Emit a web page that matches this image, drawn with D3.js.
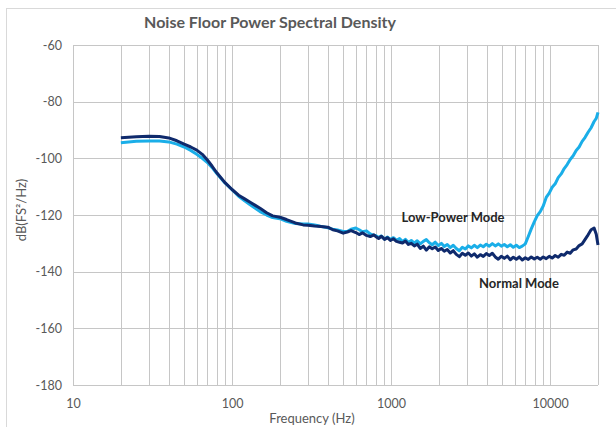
<!DOCTYPE html>
<html>
<head>
<meta charset="utf-8">
<script src="https://cdn.jsdelivr.net/npm/d3@7"></script>
<style>
  html, body { margin: 0; padding: 0; background: #ffffff; }
  svg { display: block; }
</style>
</head>
<body>
<svg id="chart" width="616" height="427"></svg>
<script>
// ---------------- DATA ----------------
const chartTitle = "Noise Floor Power Spectral Density";
const xTitle = "Frequency (Hz)";
const yTitle = "dB(FS²/Hz)";
const xTickValues = [10, 100, 1000, 10000];
const yTickValues = [-180, -160, -140, -120, -100, -80, -60];
const seriesNames = ["Low-Power Mode", "Normal Mode"];

const freqHz = [
  20, 25, 30, 35, 40, 45, 50, 55, 60, 65, 70, 75, 80, 90, 100, 110, 120, 130, 140, 150,
  165, 180, 200, 220, 250, 280, 300, 330, 360, 400, 430, 460, 500, 530, 560, 600, 630, 660, 700, 740, 780,
  800, 835, 870, 910, 950, 990, 1035, 1080, 1130, 1180, 1230, 1285, 1340, 1400, 1460, 1525, 1595, 1665, 1740, 1815,
  1895, 1980, 2070, 2160, 2255, 2355, 2460, 2570, 2685, 2805, 2930, 3060, 3195, 3335, 3485, 3640, 3800, 3970, 4145, 4330,
  4520, 4720, 4930, 5150, 5380, 5620, 5870, 6130, 6400, 6680, 6980, 7290, 7610, 7950, 8300, 8670, 9050, 9450, 9870, 10300,
  10760, 11240, 11740, 12260, 12800, 13370, 13960, 14580, 15220, 15900, 16600, 17330, 18100, 18900, 19500, 20000
];

const lowPowerDb = [
  -94.5, -94.0, -93.9, -93.9, -94.2, -95.0, -96.0, -97.2, -98.6, -100.0, -101.5, -103.3, -105.3, -108.6, -111.1, -113.4, -115.0, -116.4, -117.6, -118.8,
  -120.0, -120.9, -121.3, -122.2, -123.0, -123.2, -123.2, -123.5, -124.0, -124.5, -125.0, -125.3, -125.8, -125.8, -125.0, -124.6, -125.2, -125.9, -125.6, -126.7, -127.2,
  -127.2, -127.9, -127.4, -128.5, -127.8, -128.6, -128.0, -128.9, -128.3, -129.4, -128.6, -129.7, -129.0, -129.9, -129.1, -130.2, -129.3, -128.7, -129.8, -130.5,
  -129.6, -130.8, -130.0, -131.1, -130.4, -131.5, -130.7, -131.8, -132.6, -131.4, -132.0, -130.9, -131.6, -130.7, -131.5, -130.6, -131.2, -130.3, -131.0, -130.1,
  -130.9, -130.2, -131.0, -130.4, -131.2, -130.5, -131.4, -130.7, -131.5, -131.0, -130.2, -127.6, -124.9, -122.4, -120.2, -118.8, -116.8, -113.8, -112.3, -110.2,
  -109.0, -106.8, -105.5, -103.6, -102.2, -100.4, -99.1, -97.2, -96.0, -94.0, -92.6, -90.8, -89.2, -87.0, -85.9, -83.8
];

const normalDb = [
  -92.7, -92.4, -92.2, -92.3, -92.8, -93.8, -95.0, -96.0, -97.1, -98.6, -100.6, -102.8, -105.0, -108.5, -111.0, -113.0, -114.3, -115.5, -116.6, -117.6,
  -119.2, -120.3, -120.8, -121.6, -122.8, -123.5, -123.6, -123.9, -124.1, -124.3, -125.2, -125.6, -126.4, -126.0, -125.5, -126.2, -126.9, -126.3, -127.2, -127.6, -127.0,
  -127.6, -128.3, -127.5, -128.6, -128.0, -129.0, -128.4, -129.3, -129.6, -129.9, -129.2, -130.4, -130.0, -130.9, -130.3, -131.8, -131.0, -132.4, -131.2, -131.9,
  -131.3, -132.5, -131.8, -132.8, -132.2, -133.4, -132.6, -133.9, -134.7, -133.5, -134.2, -133.4, -134.5, -133.7, -134.9, -134.0, -134.6, -133.6, -134.3, -133.5,
  -134.8, -135.6, -134.6, -135.3, -134.5, -135.8, -134.9, -135.6, -134.8, -135.9, -135.1, -135.7, -134.8, -135.5, -134.9, -135.6, -134.8, -135.4, -134.6, -135.2,
  -134.3, -134.9, -133.9, -134.2, -133.1, -133.5, -132.3, -132.0, -130.8, -130.2, -128.6, -127.0, -125.2, -124.6, -126.8, -130.6
];

// ---------------- CHART ----------------
const svg = d3.select("#chart");
const plot = { left: 73, right: 598, top: 45, bottom: 385 };

const x = d3.scaleLog().domain([10, 20000]).range([plot.left, plot.right]);
const y = d3.scaleLinear().domain([-180, -60]).range([plot.bottom, plot.top]);

const gridColor = "#c6c6c6";
const textColor = "#595959";
const fontFamily = "Lato, 'Open Sans', 'DejaVu Sans', sans-serif";

// outer chart border
svg.append("rect")
  .attr("x", 6.5).attr("y", 8.5)
  .attr("width", 640).attr("height", 440)
  .attr("fill", "none").attr("stroke", "#d9d9d9").attr("stroke-width", 1);

// vertical grid lines (log minor)
const vGrid = [];
for (let d = 10; d <= 10000; d *= 10) {
  for (let m = 1; m <= 9; m++) {
    const v = d * m;
    if (v <= 20000) vGrid.push(v);
  }
}
vGrid.push(20000);
svg.append("g").selectAll("line").data(vGrid).join("line")
  .attr("x1", d => Math.round(x(d)) + 0.5).attr("x2", d => Math.round(x(d)) + 0.5)
  .attr("y1", plot.top).attr("y2", plot.bottom)
  .attr("stroke", gridColor).attr("stroke-width", 1);

// horizontal grid lines
svg.append("g").selectAll("line").data(yTickValues).join("line")
  .attr("x1", plot.left).attr("x2", plot.right)
  .attr("y1", d => Math.round(y(d)) + 0.5).attr("y2", d => Math.round(y(d)) + 0.5)
  .attr("stroke", gridColor).attr("stroke-width", 1);

const plainFmt = d => String(d);

// y axis labels
const yAxis = d3.axisLeft(y).tickValues(yTickValues).tickSize(0).tickPadding(11).tickFormat(plainFmt);
const gy = svg.append("g").attr("transform", `translate(${plot.left},0)`).call(yAxis);
gy.select(".domain").remove();
gy.selectAll("text").attr("fill", textColor).style("font-family", fontFamily).style("font-size", "12.5px");

// x axis labels
const xAxis = d3.axisBottom(x).tickValues(xTickValues).tickSize(0).tickPadding(14).tickFormat(plainFmt);
const gx = svg.append("g").attr("transform", `translate(0,${plot.bottom})`).call(xAxis);
gx.select(".domain").remove();
gx.selectAll("text").attr("fill", textColor).style("font-family", fontFamily).style("font-size", "12.5px");

// lines
const lowData = freqHz.map((f, i) => [f, lowPowerDb[i]]);
const normData = freqHz.map((f, i) => [f, normalDb[i]]);
const line = d3.line().x(d => x(d[0])).y(d => y(d[1])).curve(d3.curveLinear);

svg.append("path").datum(lowData)
  .attr("d", line).attr("fill", "none")
  .attr("stroke", "#1aaee8").attr("stroke-width", 3).attr("stroke-linejoin", "round");
svg.append("path").datum(normData)
  .attr("d", line).attr("fill", "none")
  .attr("stroke", "#0f2a6c").attr("stroke-width", 3).attr("stroke-linejoin", "round");

// title
svg.append("text")
  .attr("x", 270).attr("y", 28)
  .attr("text-anchor", "middle")
  .attr("fill", textColor)
  .style("font-family", fontFamily).style("font-size", "16px").style("font-weight", "bold")
  .text(chartTitle);

// axis titles
svg.append("text")
  .attr("x", 312).attr("y", 423)
  .attr("text-anchor", "middle")
  .attr("fill", textColor)
  .style("font-family", fontFamily).style("font-size", "13px")
  .text(xTitle);

svg.append("text")
  .attr("transform", "translate(26,210) rotate(-90)")
  .attr("text-anchor", "middle")
  .attr("fill", textColor)
  .style("font-family", fontFamily).style("font-size", "13px")
  .text(yTitle);

// series labels
svg.append("text")
  .attr("x", 453).attr("y", 222)
  .attr("text-anchor", "middle")
  .attr("fill", "#262626")
  .style("font-family", fontFamily).style("font-size", "13px").style("font-weight", "bold")
  .text(seriesNames[0]);

svg.append("text")
  .attr("x", 519).attr("y", 288)
  .attr("text-anchor", "middle")
  .attr("fill", "#262626")
  .style("font-family", fontFamily).style("font-size", "13px").style("font-weight", "bold")
  .text(seriesNames[1]);
</script>
</body>
</html>
